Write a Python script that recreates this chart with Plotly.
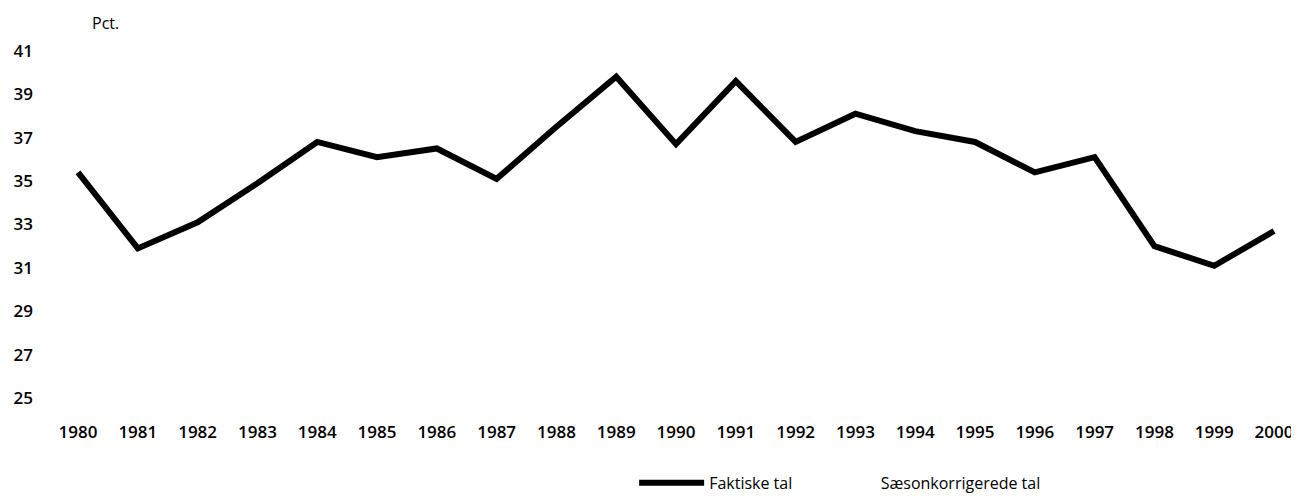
import plotly.graph_objects as go

years = list(range(1980, 2001))
faktiske = [35.4, 31.9, 33.1, 34.9, 36.8, 36.1, 36.5, 35.1, 37.5, 39.8, 36.7,
            39.6, 36.8, 38.1, 37.3, 36.8, 35.4, 36.1, 32.0, 31.1, 32.7]
saeson_years = [None]
saeson_vals = [None]
y_ticks = [25, 27, 29, 31, 33, 35, 37, 39, 41]

FONT = "Open Sans"

fig = go.Figure()
fig.add_trace(go.Scatter(
    x=years, y=faktiske, mode="lines", name="Faktiske tal",
    line=dict(color="#000000", width=6), showlegend=True, legend="legend"))
fig.add_trace(go.Scatter(
    x=saeson_years, y=saeson_vals, mode="lines", name="Sæsonkorrigerede tal",
    line=dict(color="rgba(255,255,255,0)", width=2), showlegend=True, legend="legend2"))

fig.update_layout(
    width=1291, height=488,
    margin=dict(l=26, r=10, t=21, b=76, autoexpand=False),
    paper_bgcolor="white", plot_bgcolor="white",
    font=dict(family=FONT, size=17, color="#000000"),
    xaxis=dict(range=[1979.264, 2000.25], tickmode="array", tickvals=years,
               ticktext=[str(y) for y in years], showgrid=False, zeroline=False,
               showline=False, ticks="", tickfont=dict(family=FONT, size=17, weight=600)),
    yaxis=dict(range=[24, 42], tickmode="array", tickvals=y_ticks,
               ticktext=[str(v) for v in y_ticks], showgrid=False, zeroline=False,
               showline=False, ticks="", tickfont=dict(family=FONT, size=17, weight=600)),
    legend=dict(orientation="h", xref="container", yref="container",
                x=0.485, xanchor="left", y=0.027, yanchor="middle",
                font=dict(family=FONT, size=16), itemwidth=65,
                bgcolor="rgba(0,0,0,0)"),
    legend2=dict(orientation="h", xref="container", yref="container",
                 x=0.645, xanchor="left", y=0.027, yanchor="middle",
                 font=dict(family=FONT, size=16), itemwidth=30,
                 bgcolor="rgba(0,0,0,0)"),
    annotations=[dict(text="Pct.", xref="paper", yref="paper", x=0.057, y=1.015,
                      xanchor="center", yanchor="middle", showarrow=False,
                      font=dict(family=FONT, size=16))],
)

fig.write_html("out.html")
